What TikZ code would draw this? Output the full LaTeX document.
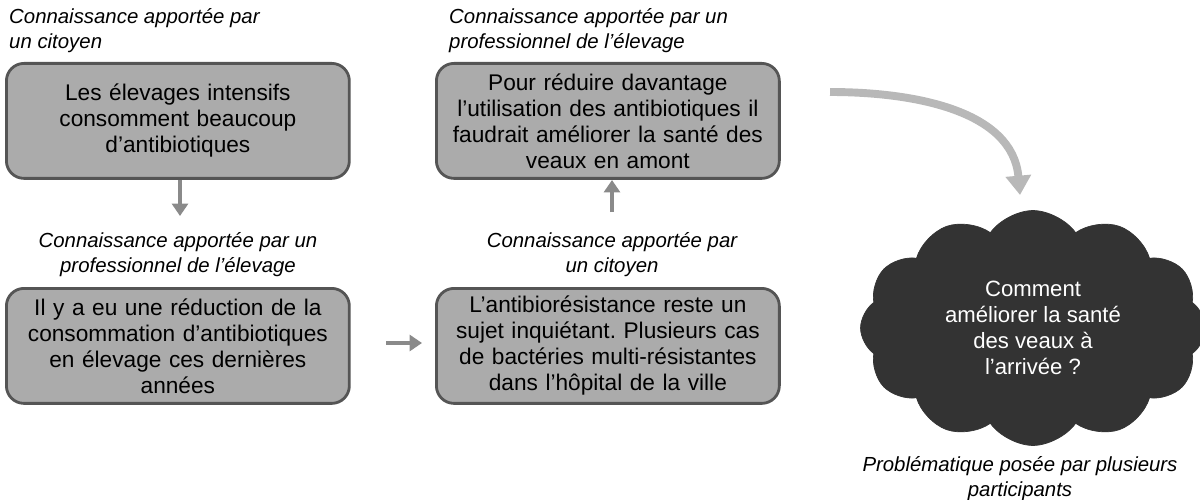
\documentclass[tikz,border=0pt]{standalone}
\usepackage{fontspec}
\setmainfont{Liberation Sans}
\usetikzlibrary{shapes.symbols,arrows.meta}
\definecolor{boxfill}{HTML}{ABABAB}
\definecolor{boxline}{HTML}{555555}
\definecolor{arr}{HTML}{8A8A8A}
\frenchspacing
\begin{document}
\begin{tikzpicture}[x=0.02cm,y=-0.02cm,
 box/.style={draw=boxline,line width=1.6pt,fill=boxfill,rounded corners=10pt,minimum width=6.86cm,minimum height=2.3cm,align=center,font=\fontsize{12.9}{14.8}\selectfont,text width=6.7cm,anchor=north west,inner sep=2pt},
 lab/.style={font=\fontsize{11.6}{14.2}\selectfont\itshape,align=left},
 labc/.style={font=\fontsize{11.6}{14.2}\selectfont\itshape,align=center},
 arw/.style={draw=arr,line width=2.2pt,-{Triangle[length=7pt,width=9pt]}}]
\useasboundingbox (0,0) rectangle (1200,500);
\node[box] (b1) at (5,62) {Les élevages intensifs\\consomment beaucoup\\d’antibiotiques};
\node[box] (b2) at (435,62) {Pour réduire davantage\\l’utilisation des antibiotiques il\\faudrait améliorer la santé des\\veaux en amont};
\node[box] (b3) at (5,287) {Il y a eu une réduction de la\\consommation d’antibiotiques\\en élevage ces dernières\\années};
\node[box] (b4) at (435,287) {L’antibiorésistance reste un\\sujet inquiétant. Plusieurs cas\\de bactéries multi-résistantes\\dans l’hôpital de la ville};
\node[lab,anchor=north west] (l1) at (3,2) {Connaissance apportée par\\un citoyen};
\node[lab,anchor=north west] (l2) at (443,2) {Connaissance apportée par un\\professionnel de l’élevage};
\node[labc,anchor=north] (l3) at (178,226) {Connaissance apportée par un\\professionnel de l’élevage};
\node[labc,anchor=north] (l4) at (612,226) {Connaissance apportée par\\un citoyen};
\coordinate (a1s) at (180,180); \coordinate (a1e) at (180,216);
\draw[arw] (a1s) -- (a1e);
\coordinate (a2s) at (386,343); \coordinate (a2e) at (422,343);
\draw[arw] (a2s) -- (a2e);
\coordinate (a3s) at (612,212); \coordinate (a3e) at (612,180);
\draw[arw] (a3s) -- (a3e);
\node[cloud,cloud puffs=12,cloud puff arc=110,aspect=1.5,fill=black!80,draw=black!80,minimum width=6.9cm,minimum height=4.7cm,text=white,align=center,font=\fontsize{12.6}{14.8}\selectfont] (c) at (1033,328) {Comment\\améliorer la santé\\des veaux à\\l’arrivée ?};
\coordinate (cs) at (830,92); \coordinate (ce) at (1020,195);
\draw[draw=black!28,line width=4.5pt,-{Triangle[length=11pt,width=14pt]}] (cs) to[out=0,in=95] (ce);
\node[labc,anchor=north] (l5) at (1020,450) {Problématique posée par plusieurs\\participants};
\end{tikzpicture}
\end{document}
